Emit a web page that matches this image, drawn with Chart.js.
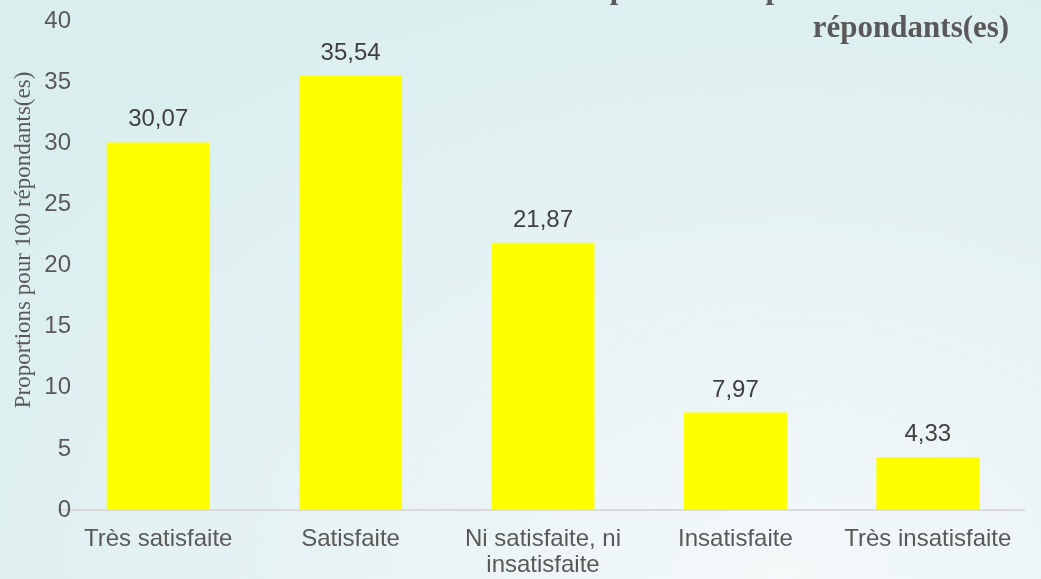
<!DOCTYPE html>
<html>
<head>
<meta charset="utf-8">
<script src="https://cdn.jsdelivr.net/npm/chart.js@4/dist/chart.umd.min.js"></script>
<style>
  html,body{margin:0;padding:0;}
  body{width:1041px;height:579px;overflow:hidden;
    background:radial-gradient(ellipse 90% 110% at 75% 100%, #f4f9fa 0%, #e8f3f4 45%, #dbeeee 100%);}
  #wrap{position:relative;width:1041px;height:579px;}
</style>
</head>
<body>
<div id="wrap"><canvas id="c"></canvas></div>
<script>
const categories = [
  'Très satisfaite',
  'Satisfaite',
  ['Ni satisfaite, ni', 'insatisfaite'],
  'Insatisfaite',
  'Très insatisfaite'
];
const proportions = [30.07, 35.54, 21.87, 7.97, 4.33];
const yTicks = [0, 5, 10, 15, 20, 25, 30, 35, 40];
const titleLines = ['Niveau de satisfaction de la personne répondante vis à vis du', 'répondants(es)'];
const yTitle = 'Proportions pour 100 répondants(es)';

const fmt = v => v.toFixed(2).replace('.', ',');

// value labels above the bars
const barLabels = {
  id: 'barLabels',
  afterDatasetsDraw(chart){
    const ctx = chart.ctx;
    const meta = chart.getDatasetMeta(0);
    ctx.save();
    ctx.font = '24px "Liberation Sans", Arial, sans-serif';
    ctx.fillStyle = '#404040';
    ctx.textAlign = 'center';
    ctx.textBaseline = 'alphabetic';
    meta.data.forEach((bar, i) => {
      ctx.fillText(fmt(proportions[i]), bar.x, bar.y - 16);
    });
    ctx.restore();
  }
};

// y tick labels (sit a little inside the plot area, like the original)
const yLabels = {
  id: 'yLabels',
  afterDraw(chart){
    const ctx = chart.ctx;
    const y = chart.scales.y;
    ctx.save();
    ctx.font = '24px "Liberation Sans", Arial, sans-serif';
    ctx.fillStyle = '#595959';
    ctx.textAlign = 'right';
    ctx.textBaseline = 'middle';
    yTicks.forEach(v => ctx.fillText(String(v), chart.chartArea.left + 9, y.getPixelForValue(v)));
    ctx.restore();
  }
};

// cropped title + vertical axis title
const titles = {
  id: 'titles',
  afterDraw(chart){
    const ctx = chart.ctx;
    ctx.save();
    ctx.fillStyle = '#595959';
    ctx.font = 'bold 31px "Liberation Serif", "Times New Roman", serif';
    ctx.textBaseline = 'alphabetic';
    ctx.textAlign = 'right';
    ctx.fillText(titleLines[0], chart.width + 2, -2);
    ctx.textAlign = 'center';
    ctx.fillText(titleLines[1], 911, 37);
    ctx.font = '23px "Liberation Serif", "Times New Roman", serif';
    ctx.translate(24, 240);
    ctx.rotate(-Math.PI / 2);
    ctx.textBaseline = 'middle';
    ctx.fillText(yTitle, 0, 0);
    ctx.restore();
  }
};

new Chart(document.getElementById('c'), {
  type: 'bar',
  data: {
    labels: categories,
    datasets: [{
      data: proportions,
      backgroundColor: '#ffff00',
      borderWidth: 0,
      categoryPercentage: 1,
      barPercentage: 0.535
    }]
  },
  options: {
    responsive: true,
    maintainAspectRatio: false,
    animation: false,
    layout: { padding: { top: 21, right: 17, left: 0, bottom: 0 } },
    plugins: { legend: { display: false }, tooltip: { enabled: false }, title: { display: false } },
    scales: {
      x: {
        grid: { display: false, drawTicks: false },
        border: { display: true, color: '#d9d9d9', width: 2 },
        ticks: {
          color: '#595959',
          font: { family: '"Liberation Sans", Arial, sans-serif', size: 24, lineHeight: 1.08 },
          padding: 16, maxRotation: 0, autoSkip: false
        },
        afterFit(s){ s.height = 69; }
      },
      y: {
        min: 0, max: 40,
        grid: { display: false, drawTicks: false },
        border: { display: false },
        ticks: { display: false, stepSize: 5 },
        afterFit(s){ s.width = 62; }
      }
    }
  },
  plugins: [barLabels, yLabels, titles]
});
</script>
</body>
</html>
